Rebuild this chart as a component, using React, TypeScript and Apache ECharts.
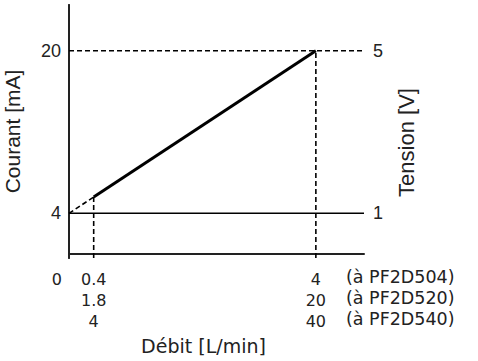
import React, { useEffect, useRef } from "react";
import * as echarts from "echarts";

const xMin = 0;
const xMax = 4.78;
const yMin = -0.4;
const yMax = 24.5;
const originTick = [0];
const xTicks = [0.4, 4];
const xTickLabels = ["0.4\n1.8\n4", "4\n20\n40"];
const modelLabels = ["(à PF2D504)", "(à PF2D520)", "(à PF2D540)"];
const currentTicks = [4, 20];
const voltageTicks = [1, 5];
const solidLine = [
  [0.4, 5.6],
  [4, 20],
];
const dashedStart = [
  [0, 4],
  [0.4, 5.6],
];
const lowFlow = 0.4;
const lowCurrent = 5.6;
const highFlow = 4;
const highCurrent = 20;
const baseCurrent = 4;

export default function App() {
  const ref = useRef<HTMLDivElement>(null);
  useEffect(() => {
    document.body.style.margin = "0";
    const chart = echarts.init(ref.current!, null, { renderer: "svg" });
    const dash = { color: "#000", width: 1.6, type: [5, 3] as any };
    const labelFont = { fontFamily: "DejaVu Sans", fontSize: 16, lineHeight: 21, color: "#222", verticalAlign: "top" };
    chart.setOption({
      animation: false,
      grid: { left: 69, right: 114, top: 5, bottom: 103, containLabel: false, outerBoundsMode: "none" },
      xAxis: [
        {
          type: "value",
          min: xMin,
          max: xMax,
          splitLine: { show: false },
          axisLine: { lineStyle: { color: "#222", width: 2 } },
          axisTick: { show: false },
          axisLabel: {
            customValues: xTicks,
            showMinLabel: true,
            showMaxLabel: true,
            formatter: (v: number) => xTickLabels[xTicks.indexOf(v)],
            ...labelFont,
            margin: 11,
          },
          name: "Débit [L/min]",
          nameLocation: "middle",
          nameGap: 73,
          nameTextStyle: { fontFamily: "DejaVu Sans", fontSize: 19, color: "#222", padding: [0, 26, 0, 0] },
        },
        {
          type: "value",
          position: "bottom",
          min: xMin,
          max: xMax,
          splitLine: { show: false },
          axisLine: { show: false },
          axisTick: { show: false },
          axisLabel: {
            customValues: originTick,
            showMinLabel: true,
            align: "right",
            padding: [0, 7, 0, 0],
            ...labelFont,
            margin: 11,
          },
        },
      ],
      yAxis: [
        {
          type: "value",
          min: yMin,
          max: yMax,
          splitLine: { show: false },
          axisLine: { show: true, lineStyle: { color: "#444", width: 2 } },
          axisTick: { show: false },
          axisLabel: {
            customValues: currentTicks,
            fontFamily: "Liberation Sans",
            fontSize: 18,
            color: "#222",
            margin: 8,
          },
          name: "Courant [mA]",
          nameLocation: "middle",
          nameRotate: 90,
          nameGap: 46,
          nameTextStyle: { fontFamily: "Liberation Sans", fontSize: 21, color: "#222" },
        },
        {
          type: "value",
          position: "right",
          min: yMin / 4,
          max: yMax / 4,
          splitLine: { show: false },
          axisLine: { show: true, lineStyle: { color: "#222", width: 2 } },
          axisTick: { show: false },
          axisLabel: {
            customValues: voltageTicks,
            fontFamily: "Liberation Sans",
            fontSize: 18,
            color: "#222",
            margin: 9,
          },
          name: "Tension [V]",
          nameLocation: "middle",
          nameRotate: 90,
          nameGap: 31,
          nameTextStyle: { fontFamily: "Liberation Sans", fontSize: 22, color: "#222", padding: [0, 22, 0, 0] },
        },
      ],
      graphic: modelLabels.map((t, i) => ({
        type: "text",
        left: 346,
        top: 268 + i * 21,
        style: { text: t, fontFamily: "DejaVu Sans", fontSize: 17.5, fill: "#222" },
      })),
      series: [
        {
          type: "line",
          data: [
            [xMin, baseCurrent],
            [xMax, baseCurrent],
          ],
          symbol: "none",
          lineStyle: { color: "#000", width: 1.6 },
          z: 2,
        },
        {
          type: "line",
          data: [
            [xMin, highCurrent],
            [xMax, highCurrent],
          ],
          symbol: "none",
          lineStyle: dash,
        },
        {
          type: "line",
          data: [
            [lowFlow, yMin],
            [lowFlow, lowCurrent],
          ],
          symbol: "none",
          lineStyle: dash,
        },
        {
          type: "line",
          data: [
            [highFlow, yMin],
            [highFlow, highCurrent],
          ],
          symbol: "none",
          lineStyle: dash,
        },
        {
          type: "line",
          data: dashedStart,
          symbol: "none",
          lineStyle: dash,
        },
        {
          type: "line",
          data: solidLine,
          symbol: "none",
          lineStyle: { color: "#000", width: 3 },
          z: 3,
        },
      ],
    });
    return () => chart.dispose();
  }, []);
  return <div ref={ref} style={{ width: 478, height: 361 }} />;
}
